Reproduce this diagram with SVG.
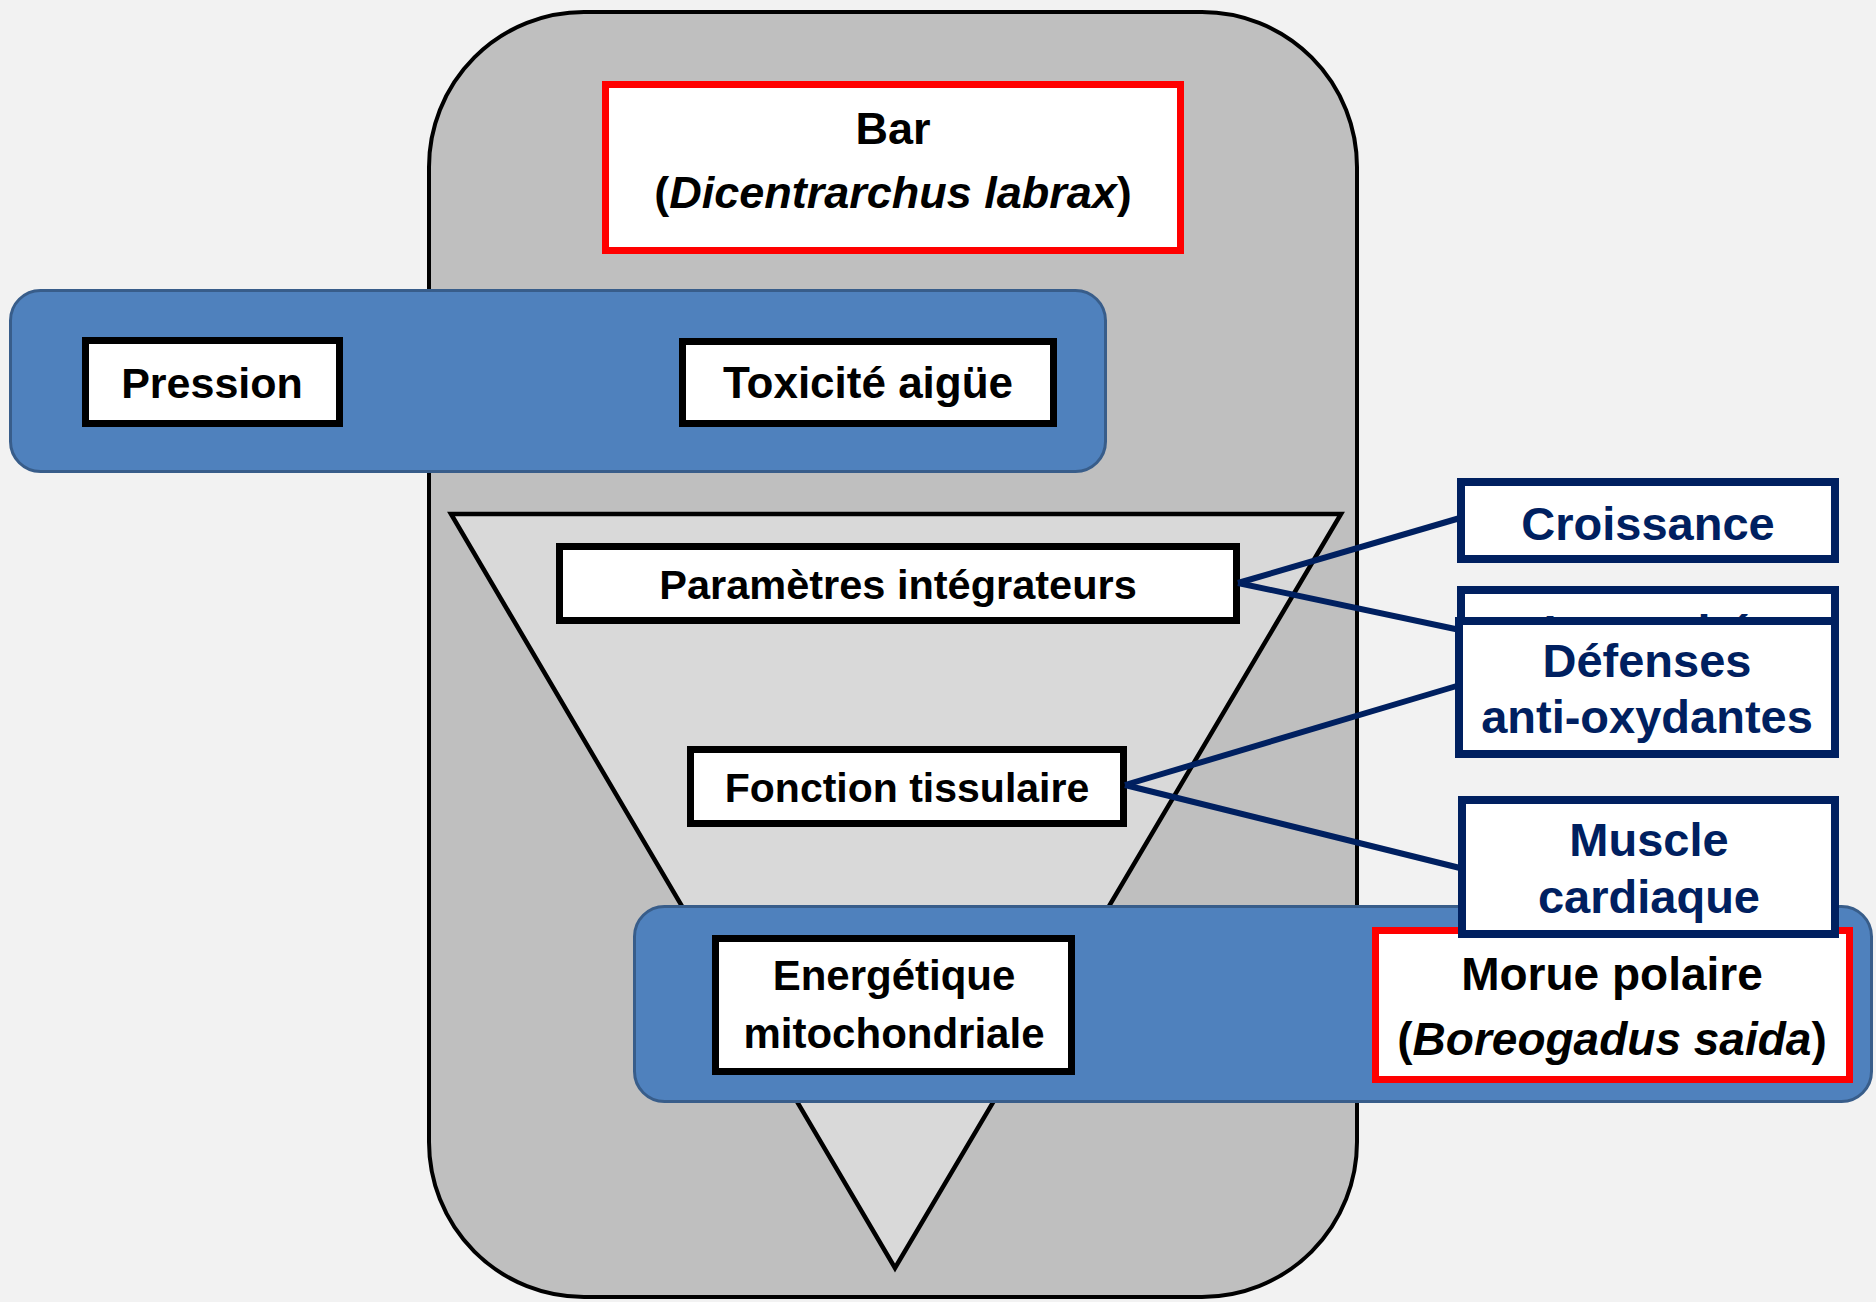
<svg xmlns="http://www.w3.org/2000/svg" width="1876" height="1302" viewBox="0 0 1876 1302">
<style>
.bg{fill:#F2F2F2}
.outer{fill:#BFBFBF;stroke:#000;stroke-width:4}
.band{fill:#4F81BD;stroke:#385D8A;stroke-width:3}
.tri{fill:#D9D9D9;stroke:#000;stroke-width:4.5;stroke-linejoin:miter}
.bk{fill:#fff;stroke:#000;stroke-width:7}
.rd{fill:#fff;stroke:#FF0000;stroke-width:7}
.nv{fill:#fff;stroke:#002060;stroke-width:8}
.conn{stroke:#002060;stroke-width:6;fill:none}
.t{font-family:"Liberation Sans",Arial,sans-serif;font-weight:bold;fill:#000;text-anchor:middle}
.tn{font-family:"Liberation Sans",Arial,sans-serif;font-weight:bold;fill:#002060;text-anchor:middle;font-size:47px}
</style>
<rect class="bg" x="0" y="0" width="1876" height="1302"/>
<g id="bar-group">
<rect class="outer" x="429" y="12" width="928" height="1285" rx="155" ry="155"/>
</g>
<g id="bar-species">
<rect class="rd" x="605.5" y="84.5" width="575" height="166"/>
<text class="t" x="893" y="144" font-size="45">Bar</text>
<text class="t" x="893" y="208" font-size="45">(<tspan font-style="italic">Dicentrarchus labrax</tspan>)</text>
</g>
<g id="band-top">
<rect class="band" x="10.5" y="290.5" width="1095" height="181" rx="30" ry="30"/>
</g>
<g id="pression">
<rect class="bk" x="85.5" y="340.5" width="254" height="83"/>
<text class="t" x="212" y="398" font-size="43">Pression</text>
</g>
<g id="toxicite">
<rect class="bk" x="682.5" y="341.5" width="371" height="82"/>
<text class="t" x="868" y="398" font-size="44">Toxicité aigüe</text>
</g>
<g id="funnel">
<polygon class="tri" points="451,514 1341,514 895,1268"/>
</g>
<g id="parametres">
<rect class="bk" x="559.5" y="546.5" width="677" height="74"/>
<text class="t" x="898" y="599" font-size="41.5">Paramètres intégrateurs</text>
</g>
<g id="fonction">
<rect class="bk" x="690.5" y="749.5" width="433" height="74"/>
<text class="t" x="907" y="802" font-size="41">Fonction tissulaire</text>
</g>
<g id="band-bottom">
<rect class="band" x="634.5" y="906.5" width="1237" height="195" rx="30" ry="30"/>
</g>
<g id="energetique">
<rect class="bk" x="715.5" y="938.5" width="356" height="133"/>
<text class="t" x="894" y="990" font-size="42">Energétique</text>
<text class="t" x="894" y="1048" font-size="42">mitochondriale</text>
</g>
<g id="morue">
<rect class="rd" x="1375.5" y="930.5" width="474" height="149"/>
<text class="t" x="1612" y="990" font-size="46">Morue polaire</text>
<text class="t" x="1612" y="1055" font-size="46">(<tspan font-style="italic">Boreogadus saida</tspan>)</text>
</g>
<g id="connectors">
<line class="conn" x1="1238" y1="583" x2="1460" y2="518"/>
<line class="conn" x1="1238" y1="583" x2="1460" y2="630"/>
<line class="conn" x1="1125" y1="785" x2="1460" y2="685"/>
<line class="conn" x1="1125" y1="785" x2="1460" y2="868"/>
</g>
<g id="croissance">
<rect class="nv" x="1461" y="482" width="374" height="77"/>
<text class="tn" x="1648" y="540">Croissance</text>
</g>
<g id="immunite">
<rect class="nv" x="1461" y="590" width="374" height="77"/>
<text class="tn" x="1648" y="648">Immunité</text>
</g>
<g id="defenses">
<rect class="nv" x="1459" y="621" width="376" height="133"/>
<text class="tn" x="1647" y="677">Défenses</text>
<text class="tn" x="1647" y="733">anti-oxydantes</text>
</g>
<g id="muscle">
<rect class="nv" x="1462" y="800" width="373" height="134"/>
<text class="tn" x="1649" y="856">Muscle</text>
<text class="tn" x="1649" y="913">cardiaque</text>
</g>
</svg>
